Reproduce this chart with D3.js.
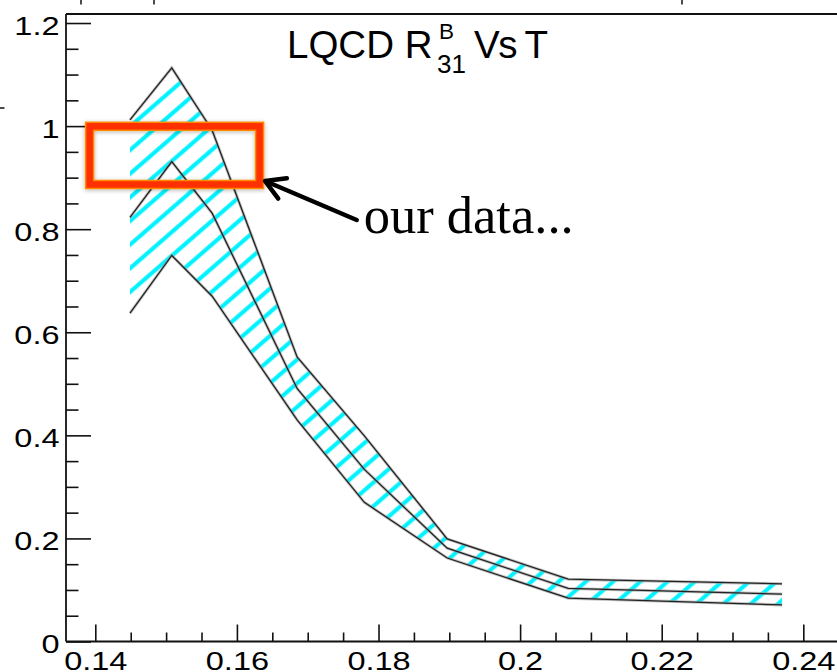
<!DOCTYPE html>
<html>
<head>
<meta charset="utf-8">
<script src="https://cdn.jsdelivr.net/npm/d3@7"></script>
<style>
  html, body { margin: 0; padding: 0; background: #fff; }
  svg { display: block; }
</style>
</head>
<body>
<svg id="chart" width="837" height="672"></svg>
<script>
// ---------------- data ----------------
const T       = [0.1449, 0.1508, 0.1565, 0.1685, 0.1780, 0.1897, 0.2068, 0.2370];
const upper   = [1.012, 1.113, 0.992, 0.552, 0.399, 0.199, 0.121, 0.112];
const central = [0.823, 0.931, 0.831, 0.491, 0.334, 0.181, 0.103, 0.092];
const lower   = [0.637, 0.749, 0.670, 0.430, 0.270, 0.162, 0.084, 0.071];

const xMajor = [0.14, 0.16, 0.18, 0.20, 0.22, 0.24];
const xMajorLabels = ["0.14", "0.16", "0.18", "0.2", "0.22", "0.24"];
const xMinor = [0.145, 0.15, 0.155, 0.165, 0.17, 0.175, 0.185, 0.19, 0.195,
                0.205, 0.21, 0.215, 0.225, 0.23, 0.235, 0.245];
const yMajor = [0, 0.2, 0.4, 0.6, 0.8, 1.0, 1.2];
const yMajorLabels = ["0", "0.2", "0.4", "0.6", "0.8", "1", "1.2"];
const yMinor = [0.05, 0.1, 0.15, 0.25, 0.3, 0.35, 0.45, 0.5, 0.55, 0.65, 0.7, 0.75,
                0.85, 0.9, 0.95, 1.05, 1.1, 1.15];

const titleMain = "LQCD R";
const titleSup = "B";
const titleSub = "31";
const titleTail = "Vs T";
const noteText = "our data...";
// annotation box (data coordinates) and arrow
const boxT = [0.1392, 0.1632];
const boxR = [0.8867, 0.9996];
const arrowFrom = [0.17692, 0.8178];
const arrowTo = [0.16397, 0.8935];

// ---------------- layout ----------------
const svg = d3.select("#chart");
const plotLeft = 66, plotTop = 14, plotBottom = 641.5;
const x = d3.scaleLinear().domain([0.13586, 0.2460]).range([plotLeft, plotLeft + (0.2460 - 0.13586) * 7080]);
const y = d3.scaleLinear().domain([0, 1.2175]).range([plotBottom, plotTop]);

const defs = svg.append("defs");
defs.append("pattern")
  .attr("id", "hatch")
  .attr("patternUnits", "userSpaceOnUse")
  .attr("width", 40).attr("height", 17.85)
  .attr("patternTransform", "rotate(-41)")
  .append("rect")
  .attr("x", 0).attr("y", 0.2).attr("width", 40).attr("height", 4.1)
  .attr("fill", "#00f2ff");

const glow = defs.append("filter").attr("id", "glow")
  .attr("x", "-20%").attr("y", "-30%").attr("width", "140%").attr("height", "160%");
glow.append("feDropShadow").attr("dx", 0).attr("dy", 1).attr("stdDeviation", 2)
  .attr("flood-color", "#000").attr("flood-opacity", 0.3);

// stray marks from neighbouring panel (cropped)
const stray = svg.append("g").attr("stroke", "#111").attr("stroke-width", 1.5);
[81, 154, 682].forEach(px => stray.append("line").attr("x1", px).attr("x2", px).attr("y1", 0).attr("y2", 4.5));
stray.append("line").attr("x1", 0).attr("x2", 4.5).attr("y1", 108).attr("y2", 108);

// ---------------- band ----------------
const pts = T.map((t, i) => ({ t, u: upper[i], c: central[i], l: lower[i] }));
const bandArea = d3.area().x(d => x(d.t)).y0(d => y(d.l)).y1(d => y(d.u));
svg.append("path").datum(pts).attr("d", bandArea).attr("fill", "url(#hatch)");

const lineOf = key => d3.line().x(d => x(d.t)).y(d => y(d[key]));
["u", "c", "l"].forEach(k => {
  svg.append("path").datum(pts).attr("d", lineOf(k))
    .attr("fill", "none").attr("stroke", "#9a9a9a").attr("stroke-width", 3.0)
    .attr("stroke-opacity", 0.6).attr("stroke-linejoin", "miter");
  svg.append("path").datum(pts).attr("d", lineOf(k))
    .attr("fill", "none").attr("stroke", "#222").attr("stroke-width", 1.3)
    .attr("stroke-linejoin", "miter");
});

// ---------------- axes ----------------
const tickFont = "'Liberation Sans', Arial, Helvetica, sans-serif";
const xAxisMinor = d3.axisBottom(x).tickValues(xMinor).tickSize(-9).tickFormat("");
const xAxisMajor = d3.axisBottom(x).tickValues(xMajor).tickSize(-17).tickPadding(10.5)
  .tickFormat((d, i) => xMajorLabels[i]);
const gxm = svg.append("g").attr("transform", `translate(0,${plotBottom})`).call(xAxisMinor);
const gx = svg.append("g").attr("transform", `translate(0,${plotBottom})`).call(xAxisMajor);

const yAxisMinor = d3.axisLeft(y).tickValues(yMinor).tickSize(-12.5).tickFormat("");
const yAxisMajor = d3.axisLeft(y).tickValues(yMajor).tickSize(-25).tickPadding(6)
  .tickFormat((d, i) => yMajorLabels[i]);
const gym = svg.append("g").attr("transform", `translate(${plotLeft},0)`).call(yAxisMinor);
const gy = svg.append("g").attr("transform", `translate(${plotLeft},0)`).call(yAxisMajor);

[gxm, gx, gym, gy].forEach(g => {
  g.select(".domain").remove();
  g.selectAll(".tick line").attr("stroke", "#111").attr("stroke-width", 1.6);
});
gx.selectAll(".tick text")
  .attr("font-family", tickFont).attr("font-size", 26).attr("fill", "#000")
  .attr("transform", "scale(1.25,1)");
gy.selectAll(".tick text")
  .attr("font-family", tickFont).attr("font-size", 26).attr("fill", "#000")
  .attr("x", -6.5 / 1.25).attr("dy", "0.44em")
  .attr("transform", "scale(1.25,1)");

// frame
const frame = svg.append("g").attr("stroke", "#111").attr("stroke-width", 1.8).attr("fill", "none");
frame.append("line").attr("x1", plotLeft).attr("x2", plotLeft).attr("y1", plotTop).attr("y2", plotBottom);
frame.append("line").attr("x1", plotLeft).attr("x2", x.range()[1]).attr("y1", plotTop).attr("y2", plotTop);
frame.append("line").attr("x1", plotLeft).attr("x2", x.range()[1]).attr("y1", plotBottom).attr("y2", plotBottom);

// ---------------- title ----------------
const tf = "'Liberation Sans', Arial, Helvetica, sans-serif";
svg.append("text").attr("x", 287).attr("y", 58).attr("font-family", tf).attr("font-size", 38.5)
  .attr("fill", "#000").text(titleMain);
svg.append("text").attr("x", 439).attr("y", 38.5).attr("font-family", tf).attr("font-size", 22.5)
  .attr("fill", "#000").text(titleSup);
svg.append("text").attr("x", 437).attr("y", 73).attr("font-family", tf).attr("font-size", 26)
  .attr("fill", "#000").text(titleSub);
svg.append("text").attr("x", 474).attr("y", 58).attr("font-family", tf).attr("font-size", 38.5)
  .attr("fill", "#000").attr("letter-spacing", -1.5).text(titleTail);

// ---------------- annotation ----------------
const bx0 = x(boxT[0]), bx1 = x(boxT[1]), by0 = y(boxR[1]), by1 = y(boxR[0]);
svg.append("rect").attr("x", bx0).attr("y", by0).attr("width", bx1 - bx0).attr("height", by1 - by0)
  .attr("fill", "none").attr("stroke", "#ff8a00").attr("stroke-width", 9.5).attr("filter", "url(#glow)");
svg.append("rect").attr("x", bx0).attr("y", by0).attr("width", bx1 - bx0).attr("height", by1 - by0)
  .attr("fill", "none").attr("stroke", "#ff3000").attr("stroke-width", 6.5);

const ax0 = x(arrowFrom[0]), ay0 = y(arrowFrom[1]), ax1 = x(arrowTo[0]), ay1 = y(arrowTo[1]);
const ang = Math.atan2(ay0 - ay1, ax0 - ax1);
const armLen = 22, spread = Math.PI / 6;
const arrowG = svg.append("g").attr("stroke", "#000").attr("stroke-width", 4.5)
  .attr("stroke-linecap", "round").attr("fill", "none");
arrowG.append("line").attr("x1", ax0).attr("y1", ay0).attr("x2", ax1 + 2 * Math.cos(ang)).attr("y2", ay1 + 2 * Math.sin(ang));
arrowG.append("path").attr("stroke-linejoin", "round").attr("d",
  `M${ax1 + armLen * Math.cos(ang - spread)},${ay1 + armLen * Math.sin(ang - spread)}` +
  `L${ax1},${ay1}` +
  `L${ax1 + armLen * Math.cos(ang + spread)},${ay1 + armLen * Math.sin(ang + spread)}`);

svg.append("text").attr("x", ax0 + 7).attr("y", 233)
  .attr("font-family", "'Liberation Serif', 'Times New Roman', Times, serif")
  .attr("font-size", 52.5).attr("fill", "#000").text(noteText);
</script>
</body>
</html>
